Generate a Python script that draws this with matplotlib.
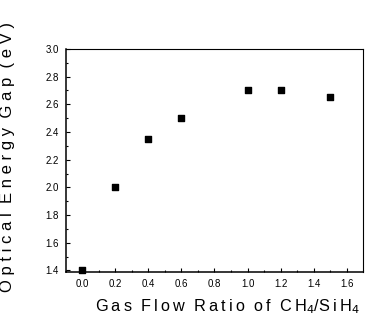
import matplotlib

matplotlib.use("Agg")
import matplotlib.pyplot as plt
from matplotlib.ticker import MultipleLocator

# gas flow ratio CH4/SiH4 vs optical energy gap
ratio = [0.0, 0.2, 0.4, 0.6, 1.0, 1.2, 1.5]
gap_ev = [1.40, 2.00, 2.35, 2.50, 2.70, 2.70, 2.65]

TS = "\u2009"  # thin space, fakes the wide letter spacing of the scan


def spaced(words):
    return "  ".join(TS.join(w) for w in words.split(" "))


x_label = spaced("Gas Flow Ratio of") + "  C" + TS + "H$_{4}$/S" + TS + "i" + TS + "H$_{4}$"
y_label = " ".join(spaced("Optical Energy Gap (eV)").split(TS))

plt.rcParams["font.family"] = ["Liberation Sans", "DejaVu Sans"]

fig = plt.figure(figsize=(3.68, 3.22), dpi=100)
ax = fig.add_axes([0.1785, 0.155, 0.8085, 0.693])

ax.scatter(ratio, gap_ev, marker="s", s=18, color="black", zorder=3, clip_on=False)

ax.set_xlim(-0.1, 1.7)
ax.set_ylim(1.388, 3.0)
ax.xaxis.set_major_locator(MultipleLocator(0.2))
ax.xaxis.set_minor_locator(MultipleLocator(0.1))
ax.yaxis.set_major_locator(MultipleLocator(0.2))
ax.yaxis.set_minor_locator(MultipleLocator(0.1))
ax.xaxis.set_major_formatter(lambda v, p: f"{v:.1f}")
ax.yaxis.set_major_formatter(lambda v, p: f"{v:.1f}")
ax.tick_params(which="both", direction="in", labelsize=7, width=0.8, pad=5)
ax.tick_params(which="major", length=3)
ax.tick_params(which="minor", length=1.5)

for side in ["top", "right"]:
    ax.spines[side].set_linewidth(0.8)
for side in ["left", "bottom"]:
    ax.spines[side].set_linewidth(1.1)

ax.set_xlabel(x_label, fontsize=11.7)
ax.xaxis.set_label_coords(0.545, -0.115)
ax.set_ylabel(y_label, fontsize=12)
ax.yaxis.set_label_coords(-0.17, 0.515)

fig.savefig("out.png", dpi=100)
